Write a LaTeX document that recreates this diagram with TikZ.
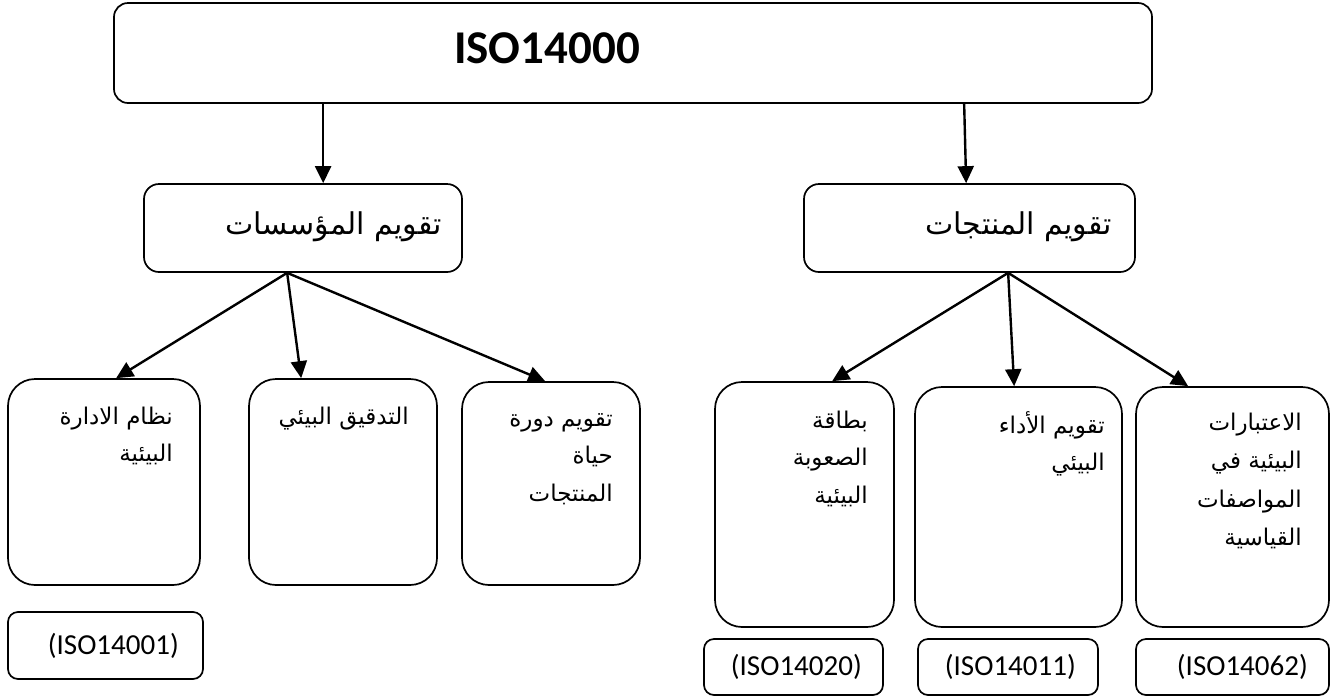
\documentclass[tikz,border=0pt]{standalone}
\usepackage{fontspec}
\setmainfont{Carlito}
\newfontfamily\arabicfont[Script=Arabic]{DejaVu Sans}
\TeXXeTstate=1
\usetikzlibrary{arrows.meta}
\newcommand{\artext}[1]{\beginR #1\endR}
\begin{document}
\begin{tikzpicture}[x=1pt,y=-1pt,
  box/.style={draw, line width=1.7pt, rounded corners=#1, inner sep=0pt},
  box/.default=14pt,
  arr/.style={line width=2.4pt, -{Triangle[length=17pt,width=16pt]}},
  artxt/.style={anchor=north east, inner sep=0pt, align=right,
    font=\arabicfont\fontsize{23}{37.5}\selectfont},
  midtxt/.style={anchor=east, inner sep=0pt,
    font=\arabicfont\fontsize{30}{34}\selectfont},
  isotxt/.style={anchor=east, inner sep=0pt, font=\fontsize{29}{32}\selectfont}]
\useasboundingbox (0,0) rectangle (1338,697);

% top level
\node[box, minimum width=1038pt, minimum height=100pt] (top) at (633,53) {};
\node[anchor=center, inner sep=0pt, font=\bfseries\fontsize{47}{50}\selectfont] (toptxt) at (547,48) {ISO14000};

% second level
\node[box=15pt, minimum width=318pt, minimum height=88pt] (org) at (303,228) {};
\node[midtxt] (orgtxt) at (442,227) {\artext{تقويم المؤسسات}};
\node[box=15pt, minimum width=331pt, minimum height=88pt] (prd) at (969.5,228) {};
\node[midtxt] (prdtxt) at (1112,227) {\artext{تقويم المنتجات}};

% organisation branch
\node[box=27pt, minimum width=192pt, minimum height=206pt] (ems) at (104,482) {};
\node[artxt] (emstxt) at (173,405) {\rule{0pt}{19pt}\artext{نظام الادارة}\\\artext{البيئية}};
\node[box=27pt, minimum width=188pt, minimum height=206pt] (aud) at (343,482) {};
\node[artxt] (audtxt) at (409,405) {\rule{0pt}{19pt}\artext{التدقيق البيئي}};
\node[box=27pt, minimum width=178pt, minimum height=203pt] (lca) at (551,483.5) {};
\node[artxt] (lcatxt) at (613,407) {\rule{0pt}{19pt}\artext{تقويم دورة}\\\artext{حياة}\\\artext{المنتجات}};

% product branch
\node[box=27pt, minimum width=179pt, minimum height=245pt] (lab) at (804.5,504.5) {};
\node[artxt] (labtxt) at (868,409) {\rule{0pt}{19pt}\artext{بطاقة}\\\artext{الصعوبة}\\\artext{البيئية}};
\node[box=27pt, minimum width=207pt, minimum height=240pt] (epe) at (1018.5,507) {};
\node[artxt] (epetxt) at (1105,411) {\rule{0pt}{19pt}\artext{تقويم الأداء}\\\artext{البيئي}};
\node[box=27pt, minimum width=193pt, minimum height=240pt] (eps) at (1232.5,507) {};
\node[artxt, font=\arabicfont\fontsize{23}{38.5}\selectfont] (epstxt) at (1302,411) {\rule{0pt}{19pt}\artext{الاعتبارات}\\\artext{البيئية في}\\\artext{المواصفات}\\\artext{القياسية}};

% standard numbers
\node[box=10pt, minimum width=195pt, minimum height=67pt] (n1) at (105.5,645.5) {};
\node[isotxt] (n1t) at (179,646) {(ISO14001)};
\node[box=10pt, minimum width=179pt, minimum height=56pt] (n2) at (793.5,667) {};
\node[isotxt] (n2t) at (862,667) {(ISO14020)};
\node[box=10pt, minimum width=180pt, minimum height=56pt] (n3) at (1008,667) {};
\node[isotxt] (n3t) at (1076,667) {(ISO14011)};
\node[box=10pt, minimum width=193pt, minimum height=56pt] (n4) at (1232.5,667) {};
\node[isotxt] (n4t) at (1308,667) {(ISO14062)};

% connectors
\draw[arr] ([xshift=210pt]top.south west) -- ([xshift=180pt]org.north west);
\draw[arr] ([xshift=851pt]top.south west) -- ([xshift=163pt]prd.north west);
\coordinate (orgo) at ([xshift=144pt]org.south west);
\coordinate (prdo) at ([xshift=205pt]prd.south west);
\draw[arr] (orgo) -- ([xshift=109pt]ems.north west);
\draw[arr] (orgo) -- ([xshift=53pt]aud.north west);
\draw[arr] (orgo) -- ([xshift=84pt]lca.north west);
\draw[arr] (prdo) -- ([xshift=118pt]lab.north west);
\draw[arr] (prdo) -- ([xshift=100pt]epe.north west);
\draw[arr] (prdo) -- ([xshift=53pt]eps.north west);
\end{tikzpicture}
\end{document}
